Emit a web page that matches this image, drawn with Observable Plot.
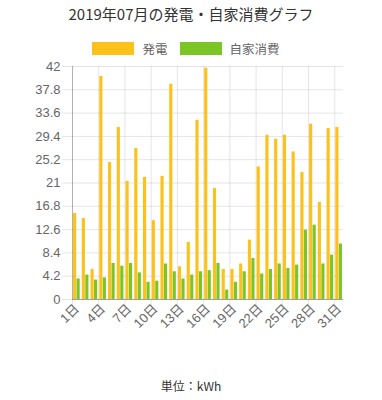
<!DOCTYPE html>
<html>
<head>
<meta charset="utf-8">
<script src="https://cdn.jsdelivr.net/npm/d3@7"></script>
<script src="https://cdn.jsdelivr.net/npm/@observablehq/plot@0.6"></script>
<style>
  html, body { margin: 0; padding: 0; background: #fff; }
  body { position: relative; width: 382px; height: 400px; overflow: hidden; font-family: "Noto Sans CJK JP", "Liberation Sans", sans-serif; }
  #title { position: absolute; left: 0; top: 3px; width: 382px; text-align: center; font-size: 15px; color: #333; line-height: 22px; }
  #legend { position: absolute; left: 0; top: 40px; width: 382px; display: flex; justify-content: center; align-items: center; font-size: 12.5px; color: #666; line-height: 17px; }
  #legend .item { display: flex; align-items: center; margin: 0 6px; }
  #legend .sw { width: 42px; height: 13px; margin-right: 8px; }
  #chart { position: absolute; left: 0; top: 58px; }
  #caption { position: absolute; left: 0; top: 377px; width: 382px; text-align: center; font-size: 12px; color: #333; line-height: 18px; }
</style>
</head>
<body>
<div id="title"></div>
<div id="legend"></div>
<div id="chart"></div>
<div id="caption"></div>
<script>
const titleText = "2019年07月の発電・自家消費グラフ";
const captionText = "単位：kWh";
const seriesNames = ["発電", "自家消費"];
const seriesColors = ["#fcc21b", "#7cc526"];
const days = [1,2,3,4,5,6,7,8,9,10,11,12,13,14,15,16,17,18,19,20,21,22,23,24,25,26,27,28,29,30,31];
const generation = [15.5,14.6,5.4,40.2,24.7,31.0,21.3,27.2,22.0,14.2,22.2,38.8,5.9,10.3,32.3,41.7,20.0,5.4,5.4,6.4,10.7,23.9,29.6,28.9,29.6,26.6,22.9,31.6,17.5,30.8,31.0];
const selfUse = [3.7,4.4,3.5,3.9,6.5,6.0,6.5,4.8,3.1,3.3,6.4,5.0,3.7,4.4,5.0,5.2,6.5,1.7,3.1,5.0,7.4,4.6,5.4,6.4,5.6,6.2,12.5,13.4,6.4,8.0,10.0];
const yTicks = [0,4.2,8.4,12.6,16.8,21,25.2,29.4,33.6,37.8,42];
const yTickLabels = ["0","4.2","8.4","12.6","16.8","21","25.2","29.4","33.6","37.8","42"];
const xLabelDays = [1,4,7,10,13,16,19,22,25,28,31];

document.getElementById("title").textContent = titleText;
document.getElementById("caption").textContent = captionText;
const legend = document.getElementById("legend");
legend.style.paddingRight = "10px";
legend.style.boxSizing = "border-box";
seriesNames.forEach((n, i) => {
  const it = document.createElement("div");
  it.className = "item";
  const sw = document.createElement("div");
  sw.className = "sw";
  sw.style.background = seriesColors[i];
  const t = document.createElement("span");
  t.textContent = n;
  it.appendChild(sw); it.appendChild(t);
  legend.appendChild(it);
});

const data = days.map((d, i) => ({day: d, gen: generation[i], self: selfUse[i]}));
// category boundaries (gridlines sit between categories, every 3rd)
const boundaries = xLabelDays.map(d => d - 0.5);
const group = 0.8, slot = group / 2, barW = slot * 0.9, pad = (slot - barW) / 2;

const chart = Plot.plot({
  width: 382,
  height: 291,
  marginTop: 8,
  marginLeft: 72,
  marginRight: 39,
  marginBottom: 50,
  x: {type: "linear", domain: [0.5, 31.5]},
  y: {domain: [0, 42]},
  style: {fontFamily: "'Liberation Sans', 'Noto Sans CJK JP', sans-serif", fontSize: "13px", color: "#666", background: "#fff"},
  marks: [
    Plot.gridY(yTicks, {stroke: "#000", strokeOpacity: 0.1}),
    Plot.gridX(boundaries.slice(1), {stroke: "#000", strokeOpacity: 0.1}),
    Plot.rectY(data, {x1: d => d.day - group / 2 + pad, x2: d => d.day - group / 2 + pad + barW, y: "gen", fill: seriesColors[0]}),
    Plot.rectY(data, {x1: d => d.day + pad, x2: d => d.day + pad + barW, y: "self", fill: seriesColors[1]}),
    Plot.axisY(yTicks, {tickSize: 10, tickPadding: 2, stroke: "#000", strokeOpacity: 0.1, tickFormat: (d, i) => yTickLabels[i], fill: "#666", label: null}),
    Plot.axisX(boundaries, {tickSize: 10, stroke: "#000", strokeOpacity: 0.1, tickFormat: () => "", label: null}),
    Plot.axisX(xLabelDays, {tickSize: 0, tickPadding: 7, tickRotate: -45, tickFormat: d => d + "日", fill: "#666", fontSize: 13, label: null}),
    Plot.ruleY([0], {stroke: "#000", strokeOpacity: 0.3}),
    Plot.ruleX([0.5], {stroke: "#000", strokeOpacity: 0.3})
  ]
});
document.getElementById("chart").appendChild(chart);
</script>
</body>
</html>
